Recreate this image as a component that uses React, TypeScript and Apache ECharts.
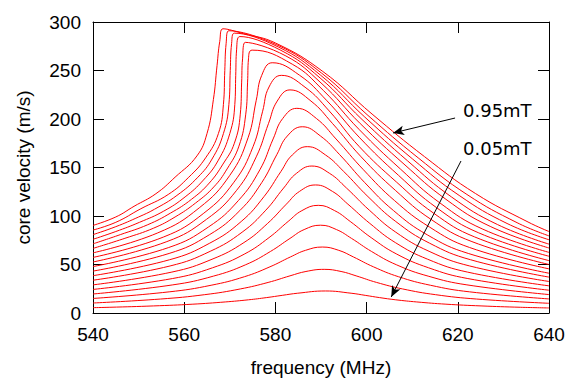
import React, { useEffect, useRef } from "react";
import * as echarts from "echarts";

type Pt = [number, number];

// frequency (MHz), core velocity (m/s) for each field amplitude
const c005: Pt[] = [[540,5.5],[543.7,5.9],[553.3,7.3],[561.9,9.1],[569.0,11.4],[574.1,13.6],[578.1,15.9],[581.5,18.2],[584.9,20.4],[591.0,22.7],[596.6,20.4],[599.7,18.2],[602.8,15.9],[606.4,13.6],[611.0,11.4],[617.4,9.1],[625.1,7.3],[633.7,5.9],[640,5.2]];
const c010: Pt[] = [[540,10.3],[554.8,14.4],[564.5,18.9],[572.3,24.8],[578.4,31.5],[583.2,38.3],[586.7,42.8],[590.7,45],[594.4,42.8],[597.7,38.3],[602.2,31.5],[607.9,24.8],[615.1,18.9],[624.1,14.4],[640,10]];
const c015: Pt[] = [[540,15],[556.7,21.8],[565.9,28.6],[573.2,37.4],[578.8,47.6],[583.3,57.8],[586.6,64.6],[590.3,68],[593.9,64.6],[597.1,57.8],[601.5,47.6],[607.0,37.4],[614.0,28.6],[622.6,21.8],[640,14.5]];
const c020: Pt[] = [[540,19.6],[557.5,29],[566.4,38],[573.5,49.8],[578.9,63.4],[583.2,76.9],[586.3,86],[589.9,90.5],[593.4,86],[596.7,76.9],[601.1,63.4],[606.5,49.8],[613.5,38],[622.0,29],[640,19]];
const c025: Pt[] = [[540,24.3],[557.4,35.5],[566.2,46.6],[573.3,61],[578.6,77.7],[582.8,94.4],[585.8,105.5],[589.4,111],[593.0,105.5],[596.4,94.4],[601.0,77.7],[606.5,61],[613.6,46.6],[622.2,35.5],[640,23.5]];
const c030: Pt[] = [[540,29],[557.3,42.2],[566.1,55.4],[573.1,72.6],[578.3,92.4],[582.4,112.2],[585.3,125.4],[588.8,132],[592.5,125.4],[595.9,112.2],[600.7,92.4],[606.3,72.6],[613.4,55.4],[622.1,42.2],[640,28]];
const c035: Pt[] = [[540,33.8],[556.9,48.5],[565.7,63.6],[572.7,83.3],[577.9,106],[581.8,128.8],[584.6,143.9],[588.0,151.5],[591.9,143.9],[595.6,128.8],[600.6,106],[606.4,83.3],[613.7,63.6],[622.6,48.5],[640,32.5]];
const c040: Pt[] = [[540,38.5],[556.8,54.9],[565.6,72],[572.5,94.3],[577.5,120],[581.2,145.8],[583.7,162.9],[587.0,171.5],[591.0,162.9],[595.0,145.8],[600.3,120],[606.4,94.3],[613.8,72],[622.8,54.9],[640,37]];
const c045: Pt[] = [[540,43.2],[556.7,61.4],[565.5,80.6],[572.2,105.6],[577.0,134.4],[580.3,163.2],[582.6,182.4],[585.9,192],[589.9,182.4],[594.1,163.2],[599.6,134.4],[605.9,105.6],[613.3,80.6],[622.3,61.4],[640,41]];
const c050: Pt[] = [[540,47.9],[556.6,67.5],[565.3,88.6],[571.9,116],[576.6,147.7],[579.5,179.4],[581.6,200.5],[584.7,211],[589.0,200.5],[593.3,179.4],[599.3,147.7],[606.1,116],[613.8,88.6],[622.6,67.5],[640,45.5]];
const c055: Pt[] = [[540,52.6],[556.2,73.6],[564.9,96.6],[571.5,126.5],[575.8,161],[578.5,195.5],[580.4,218.5],[583.2,230],[587.8,218.5],[592.5,195.5],[598.8,161],[606.3,126.5],[614.1,96.6],[623.1,73.6],[640,50]];
const c060: Pt[] = [[540,57.3],[555.5,78.4],[564.3,102.9],[570.9,134.8],[575.1,171.5],[577.2,208],[578.6,233],[581.3,245],[586.5,232.8],[591.8,208.3],[598.4,171.5],[606.6,134.8],[614.7,102.9],[623.7,78.4],[640,54]];
const c065: Pt[] = [[540,62],[554.2,82.6],[563.3,108.4],[570.0,141.9],[574.0,180.6],[575.8,219.3],[577.0,245],[579.3,258],[585.3,245.1],[591.2,219.3],[598.5,180.6],[607.0,141.9],[615.4,108.4],[624.6,82.6],[640,58.5]];
const c070: Pt[] = [[540,66.6],[547,77],[553.3,87.5],[558,99],[562.5,113.4],[566.5,130],[569.4,148.5],[572,172],[573.5,205],[573.9,238],[574.1,262],[574.9,271],[583.7,256.5],[590.5,229.5],[598.4,189],[607.4,148.5],[616.1,113.4],[625.5,86.4],[640,62.5]];
const c075: Pt[] = [[540,71.3],[546,80.8],[552,91],[557,103],[561.6,117.2],[565.5,134],[568.5,153.5],[571,175],[572.3,205],[572.6,238],[572.8,262],[573.4,279],[582.3,265],[590.0,237.2],[598.6,195.3],[608.2,153.5],[617.4,117.2],[627.1,89.3],[640,67]];
const c080: Pt[] = [[540,76],[545,84],[550.2,93.5],[555.5,105],[560.2,119.7],[564.2,137],[567.4,156.8],[570,185],[571.1,215],[571.3,245],[571.5,272],[572.2,285],[581.2,270.8],[589.8,242.3],[599.0,199.5],[609.0,156.8],[618.6,119.7],[628.7,91.2],[640,71]];
const c085: Pt[] = [[540,80.8],[545,89],[550,99],[553.5,107],[558.4,121.2],[563,140],[566.1,158.7],[568.6,185],[569.8,215],[570.1,250],[570.4,278],[571.0,288.5],[580.7,274.1],[589.9,245.2],[599.6,202],[610.1,158.7],[620.3,121.2],[630.8,92.3],[640,75.5]];
const c090: Pt[] = [[540,85.5],[545,93.5],[550.5,107.5],[556.5,122.2],[561,140],[564.7,160],[567.5,185],[568.6,215],[568.9,250],[569.2,278],[569.8,291],[580.3,276.5],[590.1,247.4],[600.3,203.7],[611.3,160],[622.0,122.2],[633.0,93.1],[640,79.5]];
const c095: Pt[] = [[540,90.3],[545,99],[549,110],[553.8,123],[558,140],[562.8,162],[565,185],[566.4,220],[567.2,255],[567.8,280],[568.5,293],[573,288],[580.0,278.4],[590.4,249],[601.2,205.1],[612.7,161.2],[623.9,123.1],[635.4,93.8],[640,84]];

const curves: Pt[][] = [c005, c010, c015, c020, c025, c030, c035, c040, c045, c050, c055, c060, c065, c070, c075, c080, c085, c090, c095];
const fieldNames = ["0.05mT","0.10mT","0.15mT","0.20mT","0.25mT","0.30mT","0.35mT","0.40mT","0.45mT","0.50mT","0.55mT","0.60mT","0.65mT","0.70mT","0.75mT","0.80mT","0.85mT","0.90mT","0.95mT"];

// annotation arrows (data coordinates): from label to curve
const arrowHigh: Pt[] = [[619.4, 201], [605.8, 185.6]];
const arrowLow: Pt[] = [[620.7, 156.7], [605.4, 16.5]];
const labelHigh = "0.95mT";
const labelLow = "0.05mT";

const xMin = 540, xMax = 640, xStep = 20;
const yMin = 0, yMax = 300, yStep = 50;

const FONT = "'Liberation Sans', Arial, Helvetica, sans-serif";
const ANNOT_FONT = "'DejaVu Sans', sans-serif";

export default function App() {
  const ref = useRef<HTMLDivElement>(null);
  useEffect(() => {
    if (!ref.current) return;
    const chart = echarts.init(ref.current, undefined, { renderer: "svg" });
    const axisLine = { show: true, onZero: false, lineStyle: { color: "#000", width: 1 } };
    const tick = { show: true, inside: true, length: 11, lineStyle: { color: "#000", width: 1 } };
    const labelStyle = { fontFamily: FONT, fontSize: 19, color: "#000" };
    const option: any = {
      animation: false,
      grid: { left: 93, right: 32, top: 22, bottom: 75 },
      xAxis: [
        {
          type: "value", min: xMin, max: xMax, interval: xStep, position: "bottom",
          name: "frequency (MHz)", nameLocation: "middle", nameGap: 45,
          nameTextStyle: { ...labelStyle },
          axisLine, axisTick: tick,
          axisLabel: { ...labelStyle, margin: 12 },
          splitLine: { show: false },
        },
        {
          type: "value", min: xMin, max: xMax, interval: xStep, position: "top",
          axisLine, axisTick: tick, axisLabel: { show: false }, splitLine: { show: false },
        },
      ],
      yAxis: [
        {
          type: "value", min: yMin, max: yMax, interval: yStep, position: "left",
          name: "core velocity (m/s)", nameLocation: "middle", nameGap: 60,
          nameTextStyle: { ...labelStyle },
          axisLine, axisTick: tick,
          axisLabel: { ...labelStyle, margin: 12 },
          splitLine: { show: false },
        },
        {
          type: "value", min: yMin, max: yMax, interval: yStep, position: "right",
          axisLine, axisTick: tick, axisLabel: { show: false }, splitLine: { show: false },
        },
      ],
      series: curves.map((d, i) => ({
        type: "line",
        name: fieldNames[i],
        xAxisIndex: 0,
        yAxisIndex: 0,
        data: d,
        showSymbol: false,
        smooth: 0.45,
        lineStyle: { color: "#ff0000", width: 1 },
        z: 2,
        ...(i === 0
          ? {
              markLine: {
                silent: true,
                symbol: ["none", "arrow"],
                symbolSize: [7, 11],
                label: { show: false },
                lineStyle: { color: "#000", width: 1, type: "solid" },
                data: [
                  [{ coord: arrowHigh[0] }, { coord: arrowHigh[1] }],
                  [{ coord: arrowLow[0] }, { coord: arrowLow[1] }],
                ],
              },
            }
          : {}),
      })),
      graphic: [
        { type: "text", x: 463, y: 110, style: { text: labelHigh, font: `18px ${ANNOT_FONT}`, fill: "#000", align: "left", verticalAlign: "middle" } },
        { type: "text", x: 463, y: 148, style: { text: labelLow, font: `18px ${ANNOT_FONT}`, fill: "#000", align: "left", verticalAlign: "middle" } },
      ],
    };
    chart.setOption(option);
    return () => chart.dispose();
  }, []);
  return <div ref={ref} style={{ position: "fixed", left: 0, top: 0, width: 581, height: 388, background: "#fff" }} />;
}
